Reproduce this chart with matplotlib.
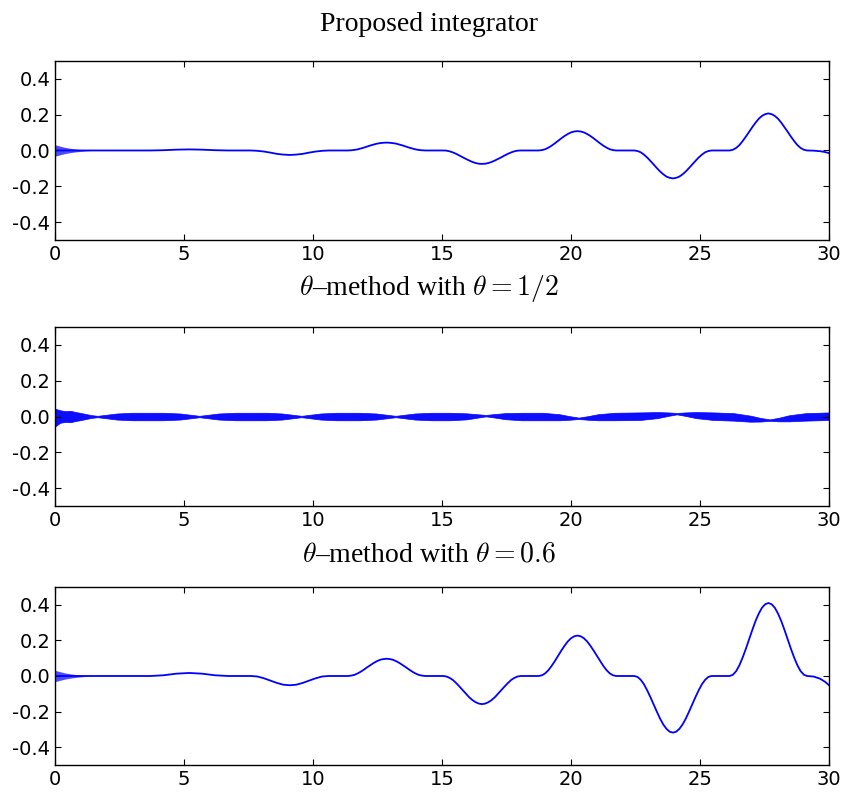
import matplotlib
matplotlib.use('Agg')
import matplotlib.pyplot as plt

plt.rcParams['font.family'] = 'DejaVu Sans'
plt.rcParams['mathtext.fontset'] = 'cm'
plt.rcParams['axes.unicode_minus'] = False
plt.rcParams['axes.linewidth'] = 1.0
plt.rcParams['xtick.labelsize'] = 14
plt.rcParams['ytick.labelsize'] = 14

# time samples for the smooth solutions
t_s = [0.0, 0.5, 1.0, 1.5, 2.0, 2.5, 3.0, 3.7, 4.2, 4.7, 5.2, 5.7, 6.2, 6.7, 7.15,
       7.6, 7.85, 8.1, 8.35, 8.6, 8.85, 9.1, 9.35, 9.6, 9.85, 10.1, 10.35, 10.6, 10.95,
       11.35, 11.475, 11.6, 11.725, 11.85, 11.975, 12.1, 12.225, 12.35, 12.475, 12.6, 12.725, 12.85,
       12.975, 13.1, 13.225, 13.35, 13.475, 13.6, 13.725, 13.85, 13.975, 14.1, 14.225, 14.35, 14.7,
       15.05, 15.175, 15.3, 15.425, 15.55, 15.675, 15.8, 15.925, 16.05, 16.175, 16.3, 16.425, 16.55,
       16.675, 16.8, 16.925, 17.05, 17.175, 17.3, 17.425, 17.55, 17.675, 17.8, 17.925, 18.05, 18.4,
       18.75, 18.875, 19.0, 19.125, 19.25, 19.375, 19.5, 19.625, 19.75, 19.875, 20.0, 20.125, 20.25,
       20.375, 20.5, 20.625, 20.75, 20.875, 21.0, 21.125, 21.25, 21.375, 21.5, 21.625, 21.75, 22.1,
       22.45, 22.575, 22.7, 22.825, 22.95, 23.075, 23.2, 23.325, 23.45, 23.575, 23.7, 23.825, 23.95,
       24.075, 24.2, 24.325, 24.45, 24.575, 24.7, 24.825, 24.95, 25.075, 25.2, 25.325, 25.45, 25.8,
       26.15, 26.275, 26.4, 26.525, 26.65, 26.775, 26.9, 27.025, 27.15, 27.275, 27.4, 27.525, 27.65,
       27.775, 27.9, 28.025, 28.15, 28.275, 28.4, 28.525, 28.65, 28.775, 28.9, 29.025, 29.15,
       29.4, 29.65, 29.85, 30.0]

# proposed integrator
y_prop = [0.0, 0.0, 0.0, 0.0, 0.0, 0.0, 0.0, 0.0, 0.0015, 0.0045, 0.006, 0.0045, 0.0015, 0.0, 0.0,
          0.0, -0.002, -0.006, -0.012, -0.019, -0.023, -0.025, -0.023, -0.019, -0.012, -0.006, -0.002, 0.0, 0.0,
          0.0, 0.001, 0.003, 0.006, 0.011, 0.016, 0.022, 0.028, 0.033, 0.038, 0.041, 0.043, 0.044,
          0.043, 0.041, 0.038, 0.033, 0.028, 0.022, 0.016, 0.011, 0.006, 0.003, 0.001, 0.0, 0.0,
          0.0, -0.001, -0.005, -0.011, -0.019, -0.028, -0.038, -0.047, -0.056, -0.064, -0.070, -0.074, -0.075,
          -0.074, -0.070, -0.064, -0.056, -0.047, -0.038, -0.028, -0.019, -0.011, -0.005, -0.001, 0.0, 0.0,
          0.0, 0.002, 0.007, 0.016, 0.027, 0.040, 0.054, 0.068, 0.081, 0.092, 0.101, 0.106, 0.108,
          0.106, 0.101, 0.092, 0.081, 0.068, 0.054, 0.040, 0.027, 0.016, 0.007, 0.002, 0.0, 0.0,
          0.0, -0.003, -0.010, -0.023, -0.039, -0.058, -0.078, -0.098, -0.117, -0.133, -0.146, -0.153, -0.156,
          -0.153, -0.146, -0.133, -0.117, -0.098, -0.078, -0.058, -0.039, -0.023, -0.010, -0.003, 0.0, 0.0,
          0.0, 0.004, 0.014, 0.030, 0.052, 0.077, 0.104, 0.130, 0.155, 0.177, 0.193, 0.203, 0.207,
          0.203, 0.193, 0.177, 0.155, 0.130, 0.104, 0.077, 0.052, 0.030, 0.014, 0.004, 0.0,
          -0.001, -0.004, -0.009, -0.015]

# theta = 0.6
y_th06 = [0.0, 0.0, 0.0, 0.0, 0.0, 0.0, 0.0, 0.0, 0.004, 0.013, 0.017, 0.013, 0.004, 0.0, 0.0,
          0.0, -0.003, -0.013, -0.026, -0.039, -0.049, -0.052, -0.049, -0.039, -0.026, -0.013, -0.003, 0.0, 0.0,
          0.0, 0.002, 0.006, 0.014, 0.024, 0.036, 0.049, 0.061, 0.073, 0.083, 0.091, 0.095, 0.097,
          0.095, 0.091, 0.083, 0.073, 0.061, 0.049, 0.036, 0.024, 0.014, 0.006, 0.002, 0.0, 0.0,
          0.0, -0.003, -0.011, -0.023, -0.040, -0.059, -0.079, -0.099, -0.119, -0.135, -0.147, -0.155, -0.158,
          -0.155, -0.147, -0.135, -0.119, -0.099, -0.079, -0.059, -0.040, -0.023, -0.011, -0.003, 0.0, 0.0,
          0.0, 0.004, 0.015, 0.033, 0.057, 0.084, 0.114, 0.143, 0.170, 0.194, 0.212, 0.223, 0.227,
          0.223, 0.212, 0.194, 0.170, 0.143, 0.114, 0.084, 0.057, 0.033, 0.015, 0.004, 0.0, 0.0,
          0.0, -0.005, -0.021, -0.046, -0.080, -0.118, -0.159, -0.200, -0.239, -0.272, -0.297, -0.313, -0.318,
          -0.313, -0.297, -0.272, -0.239, -0.200, -0.159, -0.118, -0.080, -0.046, -0.021, -0.005, 0.0, 0.0,
          0.0, 0.007, 0.027, 0.060, 0.103, 0.152, 0.205, 0.258, 0.308, 0.350, 0.383, 0.403, 0.410,
          0.403, 0.383, 0.350, 0.308, 0.258, 0.205, 0.152, 0.103, 0.060, 0.027, 0.007, 0.0,
          -0.003, -0.015, -0.033, -0.052]

# fast start-up oscillation (envelope)
t_burst = [0.0, 0.2, 0.4, 0.6, 0.8, 1.0, 1.2, 1.4]
env_prop = [0.032, 0.024, 0.017, 0.012, 0.008, 0.005, 0.002, 0.0]
env_th06 = [0.032, 0.024, 0.017, 0.012, 0.008, 0.005, 0.002, 0.0]

# theta = 1/2: dense oscillation, drawn as centre +/- half width
t_mid = [0.0, 0.2, 0.4, 0.6, 0.8, 1.0, 1.2, 1.4,
         1.65, 2.0, 2.4, 3.0, 3.6, 4.2, 4.85, 5.25, 5.6,
         5.95, 6.35, 7.0, 7.6, 8.2, 8.8, 9.2, 9.55,
         9.9, 10.3, 10.9, 11.8, 12.45, 12.85, 13.2,
         13.55, 13.95, 14.6, 15.3, 15.95, 16.35, 16.7,
         17.05, 17.45, 18.1, 18.9, 19.55, 19.95, 20.3,
         20.65, 21.05, 21.7, 22.7, 23.35, 23.75, 24.1,
         24.45, 24.85, 25.5, 26.3, 26.95, 27.35, 27.7,
         28.05, 28.45, 29.1, 29.6, 30.0]
c_mid = [-0.006, 0.0, 0.0, 0.0, 0.0, 0.0, 0.0, 0.0,
         0.0, 0.0, 0.0, 0.0, 0.0, 0.0, 0.0, 0.0, 0.0,
         0.0, 0.0, 0.0, 0.0, 0.0, 0.0, 0.0, 0.0,
         0.0, 0.0, 0.0, 0.0, 0.0, 0.0, 0.0,
         0.0, 0.0, 0.0, 0.0, 0.001, 0.003, 0.005,
         0.004, 0.002, 0.0, 0.0, -0.004, -0.008, -0.010,
         -0.008, -0.004, 0.0, 0.002, 0.008, 0.013, 0.016,
         0.013, 0.008, 0.002, -0.002, -0.012, -0.018, -0.020,
         -0.017, -0.010, -0.002, 0.0, 0.002]
w_mid = [0.05, 0.035, 0.03, 0.032, 0.025, 0.02, 0.014, 0.008,
         0.004, 0.010, 0.017, 0.021, 0.021, 0.021, 0.017, 0.010, 0.004,
         0.010, 0.017, 0.021, 0.021, 0.021, 0.017, 0.010, 0.004,
         0.010, 0.017, 0.021, 0.021, 0.017, 0.010, 0.004,
         0.010, 0.017, 0.021, 0.021, 0.017, 0.010, 0.004,
         0.010, 0.017, 0.021, 0.021, 0.017, 0.010, 0.004,
         0.010, 0.017, 0.021, 0.021, 0.017, 0.010, 0.004,
         0.010, 0.017, 0.021, 0.021, 0.017, 0.010, 0.004,
         0.010, 0.017, 0.021, 0.021, 0.021]

x_ticks = [0, 5, 10, 15, 20, 25, 30]
y_ticks = [-0.4, -0.2, 0.0, 0.2, 0.4]

fig = plt.figure(figsize=(8.45, 7.93), dpi=100)
ax1 = fig.add_axes([0.0651, 0.6974, 0.916, 0.2257])
ax2 = fig.add_axes([0.0651, 0.3619, 0.916, 0.2257])
ax3 = fig.add_axes([0.0651, 0.0353, 0.916, 0.2245])

ax1.fill_between(t_burst, [-e for e in env_prop], env_prop, color='blue', alpha=0.7, lw=0)
ax1.plot(t_s, y_prop, color='blue', lw=1.3)

lo = [c - w for c, w in zip(c_mid, w_mid)]
hi = [c + w for c, w in zip(c_mid, w_mid)]
ax2.fill_between(t_mid, lo, hi, color='blue', alpha=0.95, lw=0.5)

ax3.fill_between(t_burst, [-e for e in env_th06], env_th06, color='blue', alpha=0.7, lw=0)
ax3.plot(t_s, y_th06, color='blue', lw=1.3)

for ax in (ax1, ax2, ax3):
    ax.set_xlim(0, 30)
    ax.set_ylim(-0.5, 0.5)
    ax.set_xticks(x_ticks)
    ax.set_yticks(y_ticks)
    ax.set_yticklabels(['%.1f' % v for v in y_ticks])
    ax.tick_params(direction='in', length=4, width=0.8, top=True, right=True, pad=3.5)

tfont = dict(family='Liberation Serif', size=20, ha='center', va='baseline')
fig.text(0.5077, 0.9609, 'Proposed integrator', **tfont)
fig.text(0.5077, 0.6280, r'$\theta$–method with $\theta = 1/2$', **tfont)
fig.text(0.5077, 0.2913, r'$\theta$–method with $\theta = \mathsf{0.6}$', **tfont)

fig.savefig('out.png', dpi=100)
